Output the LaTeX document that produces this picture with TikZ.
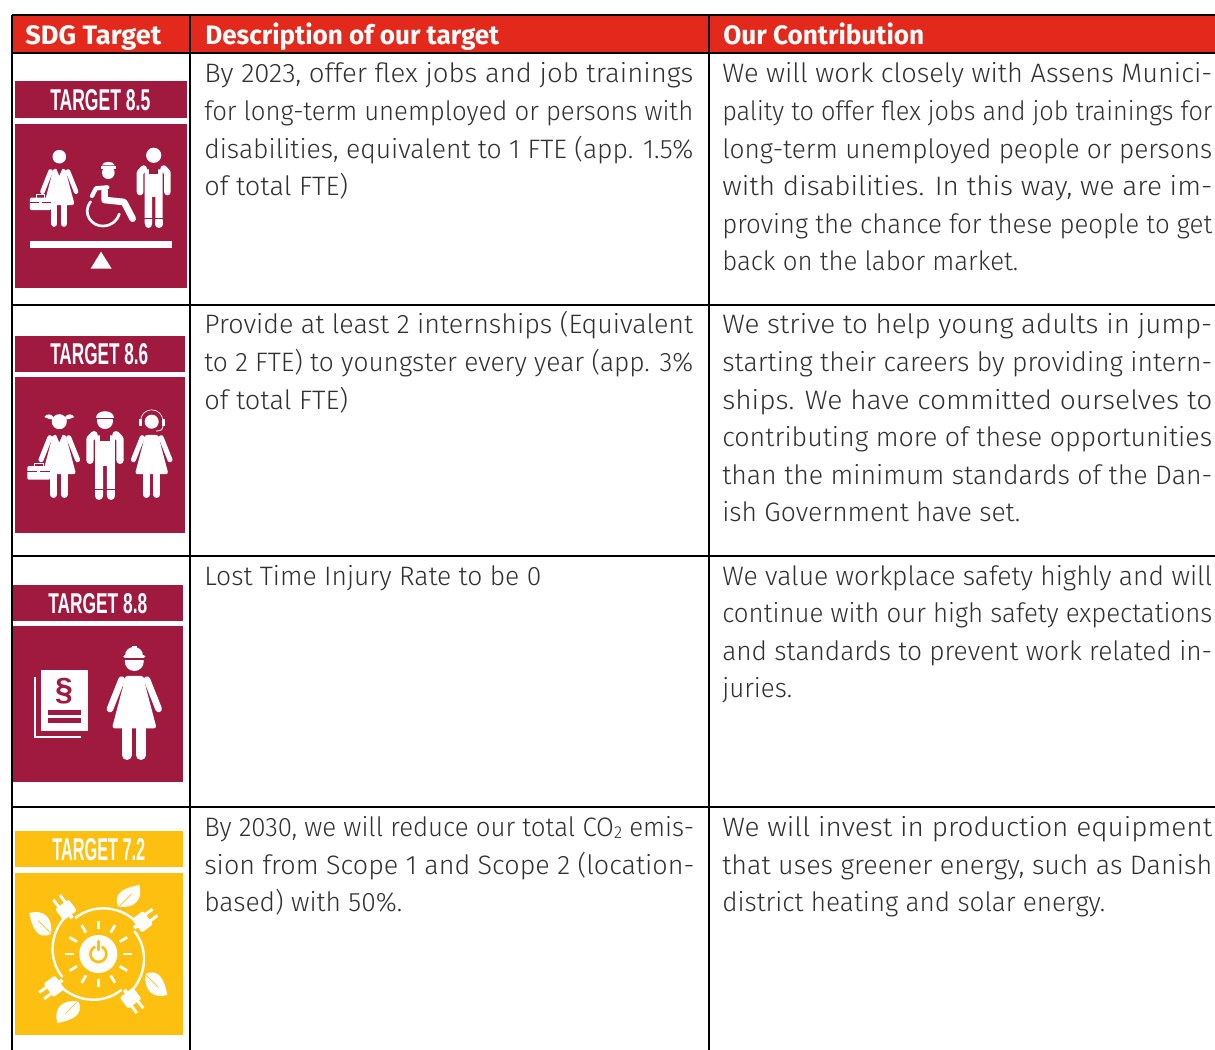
\documentclass[tikz,border=0pt]{standalone}
\usepackage{graphicx}
\usepackage{fontspec}
\setmainfont{Fira Sans Light}
\newfontfamily\hdrfont{Fira Sans}
\newfontfamily\headfont{Liberation Sans}
\definecolor{hdr}{HTML}{E3281C}
\definecolor{mar}{HTML}{A01A40}
\definecolor{yel}{HTML}{FDC010}
\definecolor{txt}{HTML}{303030}
\newlength\pxu \setlength\pxu{0.75pt}
\newcounter{tlc}
% one line of body text: x, baseline y, right end, text
\newcommand\tline[4]{\stepcounter{tlc}\node[bodyline] (tl\thetlc) at (#1,#2) {\resizebox{\dimexpr\pxu*(#3-#1)\relax}{\height}{#4}};}
\newcommand\hdline[3]{\stepcounter{tlc}\node[headline] (tl\thetlc) at (#2,44) {\resizebox{\dimexpr\pxu*(#3-#2)\relax}{\height}{#1}};}
\newcommand\tlabel[6]{\node[targetlabel] (#1) at (#2,#5) {\resizebox{\dimexpr\pxu*(#4-#2)\relax}{\dimexpr\pxu*(#5-#3)\relax}{#6}};}
\newcommand\womanbody[3]{\begin{scope}[shift={(#1,#2)},scale=#3/3]
 \fill[white,rounded corners=2] (-28,53)--(28,53)--(34,85)--(67,210)--(-67,210)--(-34,85)--cycle;
 \draw[white,line cap=round,line width=#3*5pt] (-38,64)--(-73,152) (38,64)--(73,152);
 \draw[white,line cap=round,line width=#3*7pt] (-22,205)--(-22,291) (20,205)--(20,291);
 \end{scope}}
\newcommand\vneck[3]{\begin{scope}[shift={(#1,#2)},scale=#3/3]
 \fill[mar] (-14,50)--(0,82)--(14,50)--cycle;
 \end{scope}}
\newcommand\manbody[3]{\begin{scope}[shift={(#1,#2)},scale=#3/3]
 \fill[white] (-27,42)--(27,42)--(27,130)--(27,205)--(5,205)--(5,125)--(-5,125)--(-5,205)--(-27,205)--cycle;
 \fill[mar] (-14,38) rectangle (14,56);
 \draw[white,line cap=round,line join=round,line width=#3*5pt] (-41,110)--(-41,52)--(-30,40) (41,110)--(41,52)--(30,40);
 \draw[white,line cap=round,line width=#3*5.5pt] (-16,200)--(-16,207) (16,200)--(16,207);
 \draw[mar,line width=#3*.8pt] (-32,190)--(-2,190) (2,190)--(32,190);
 \end{scope}}
\newcommand\briefcase[3]{\begin{scope}[shift={(#1,#2)},scale=#3/3]
 \fill[white,rounded corners=1] (-128,178) rectangle (-36,232);
 \draw[white,line width=#3*1.2pt] (-100,178)--(-100,166)--(-64,166)--(-64,178);
 \draw[mar,line width=#3*.7pt] (-128,198)--(-36,198);
 \fill[white] (-88,192) rectangle (-76,206);
 \end{scope}}
\newcommand\cardicon[5]{\fill[#5] (#1,#2) rectangle (#3,#4);}
\begin{document}
\begin{tikzpicture}[x=\pxu,y=-\pxu,
 bodyline/.style={anchor=base west,inner sep=0pt,text=txt,font=\fontsize{20}{24}\selectfont},
 headline/.style={anchor=base west,inner sep=0pt,text=white,font=\hdrfont\fontsize{20}{24}\selectfont\bfseries},
 targetlabel/.style={anchor=base west,inner sep=0pt,text=white,font=\headfont\bfseries},
 rule/.style={black,line width=1.5pt}]
\useasboundingbox (0,0) rectangle (1215,1050);
\fill[white] (0,0) rectangle (1215,1050);
% header
\fill[hdr] (12,15) rectangle (1215,53);
% grid
\draw[rule] (12,15)--(1215,15);
\draw[rule] (12,53)--(1215,53);
\draw[rule] (12,304.5)--(1215,304.5);
\draw[rule] (12,555.5)--(1215,555.5);
\draw[rule] (12,806.5)--(1215,806.5);
\draw[rule] (12,15)--(12,1050);
\draw[rule] (190,15)--(190,1050);
\draw[rule] (709,15)--(709,1050);
% cards
\cardicon{15}{81}{187}{118}{mar}\cardicon{15}{124}{187}{288}{mar}
\cardicon{15}{336}{184.5}{372}{mar}\cardicon{15}{376.5}{184.5}{533}{mar}
\cardicon{13}{585}{183}{621}{mar}\cardicon{13}{626}{183}{782}{mar}
\cardicon{15}{831}{183}{867}{yel}\cardicon{15}{873}{183}{1035}{yel}
\tlabel{t85}{50}{89}{150}{110}{TARGET 8.5}
\tlabel{t86}{50}{343}{148}{364}{TARGET 8.6}
\tlabel{t88}{48}{593}{147}{613}{TARGET 8.8}
\tlabel{t72}{52}{838}{145}{860}{TARGET 7.2}
% ---- 8.5
\fill[white] (59.3,156.7) circle (6.8);
\womanbody{59.3}{156.7}{.69}
\vneck{59.3}{156.7}{.69}
\briefcase{59.3}{156.7}{.69}
\manbody{153.7}{155.3}{1}
\fill[white] (153.7,155.3) circle (7.6);
\begin{scope}[scale=1/3]
 % wheelchair
 \fill[white] (325,518) circle (19);
 \fill[white] (306,496) .. controls (308,482) and (342,482) .. (344,496) -- cycle;
 \fill[white] (303,497) rectangle (347,506);
 \draw[white,line width=3.2pt,line cap=round,line join=round] (276,588)--(288,565)--(322,562);
 \draw[white,line width=5pt,line cap=round,line join=round] (314,572)--(314,600)--(372,606)--(398,656);
 \draw[white,line width=2pt,line cap=round] (272,605) .. controls (245,640) and (275,680) .. (310,678) .. controls (335,677) and (352,662) .. (358,642);
 % seesaw
 \fill[white] (90,722) rectangle (515,745);
 \fill[white] (303,755)--(272,806)--(335,806)--cycle;
\end{scope}
% ---- 8.6
\fill[white] (59.3,421.7) circle (7.5);
\begin{scope}[shift={(59.3,421.7)},scale=1/3]
 \fill[white] (-16,-12) .. controls (-24,-26) and (-38,-24) .. (-45,-14) .. controls (-36,-10) and (-26,-6) .. (-18,-6) -- cycle;
 \fill[white] (16,-12) .. controls (24,-26) and (38,-24) .. (45,-14) .. controls (36,-10) and (26,-6) .. (18,-6) -- cycle;
\end{scope}
\womanbody{59.3}{421.7}{.75}
\vneck{59.3}{421.7}{.75}
\briefcase{59.3}{421.7}{.75}
\manbody{105}{420}{1.1}
\fill[white] (105,421) circle (8);
\fill[white] (96,418) .. controls (96,409) and (114,409) .. (114,418) -- cycle;
\draw[mar,line width=.4pt] (96,418.5)--(114,418.5);
\fill[white] (151.7,421.7) circle (7);
\draw[white,line width=.5pt] (140.5,421) arc[start angle=180,end angle=360,radius=11.2];
\fill[white] (139,419) rectangle (141.5,426);
\fill[white] (162,419) rectangle (164.5,426);
\draw[white,line width=.6pt] (163,426) .. controls (163,430) and (160,431) .. (156,431);
\womanbody{151.7}{421.7}{.75}
% ---- 8.8
\begin{scope}[shift={(0,570)},scale=1/3]
 \fill[white] (123,300) rectangle (265,482);
 \draw[white,line width=1.6pt] (104,322)--(104,501)--(243,501);
 \node[text=mar,font=\headfont\bfseries\fontsize{24}{26}\selectfont,inner sep=0pt,anchor=center] (para) at (192,364) {\S};
 \fill[mar] (143,420) rectangle (243,435);
 \fill[mar] (143,445) rectangle (243,460);
\end{scope}
\womanbody{134.3}{658.3}{1}
\fill[white] (134.3,661.5) circle (9.5);
\begin{scope}[shift={(134.3,658.3)},scale=1/3]
 \fill[white] (-27,-8) .. controls (-27,-44) and (27,-44) .. (27,-8) -- cycle;
 \fill[white] (-8,-36) rectangle (8,-24);
 \draw[white,line width=2.6pt,line cap=round] (-28,-5)--(28,-5);
 \draw[mar,line width=.8pt] (-32,2)--(32,2);
\end{scope}
% ---- 7.2
\begin{scope}[shift={(98.3,954)},scale=1/3]
 \fill[white] (0,0) circle (57);
 \draw[yel,line width=2pt] (10,-22) arc[start angle=-66,end angle=246,radius=24];
 \draw[yel,line width=2pt,line cap=round] (0,-38)--(0,-12);
 \foreach \a in {0,30,...,330}
  \draw[white,line width=2pt] (\a:74)--(\a:100);
 \foreach \q in {0,90,180,270}{
 \begin{scope}[rotate=\q]
  \draw[white,line width=1.8pt,line cap=round] plot[smooth,domain=-38:-122,samples=18] ({(128+22*(\x+122)/84)*cos(\x)},{(128+22*(\x+122)/84)*sin(\x)});
  \begin{scope}[shift={(130,-95)},rotate=37]
   \fill[white,rounded corners=1.5] (-18,-25) rectangle (24,25);
   \draw[white,line width=2.2pt] (22,-12)--(50,-12) (22,12)--(50,12);
   \draw[white,line width=2.8pt] (-28,0)--(-10,0);
  \end{scope}
  \fill[white] (60,-142) .. controls (40,-185) and (85,-200) .. (123,-207) .. controls (135,-165) and (110,-135) .. cycle;
  \draw[yel,line width=.5pt] (62,-142)--(100,-180);
 \end{scope}}
\end{scope}
% header text
\hdline{SDG Target}{25}{161}
\hdline{Description of our target}{205}{499}
\hdline{Our Contribution}{723}{924}
% row 1
\tline{204}{82}{693}{By 2023, offer flex jobs and job trainings}
\tline{204}{120}{693}{for long-term unemployed or persons with}
\tline{204}{158}{693}{disabilities, equivalent to 1 FTE (app. 1.5\%}
\tline{204}{195}{348}{of total FTE)}
\tline{722}{82}{1212}{We will work closely with Assens Munici-}
\tline{722}{120}{1212}{pality to offer flex jobs and job trainings for}
\tline{722}{158}{1212}{long-term unemployed people or persons}
\tline{722}{195}{1212}{with disabilities. In this way, we are im-}
\tline{722}{233}{1212}{proving the chance for these people to get}
\tline{722}{270}{1018}{back on the labor market.}
% row 2
\tline{204}{333}{693}{Provide at least 2 internships (Equivalent}
\tline{204}{371}{693}{to 2 FTE) to youngster every year (app. 3\%}
\tline{204}{409}{348}{of total FTE)}
\tline{722}{333}{1212}{We strive to help young adults in jump-}
\tline{722}{371}{1212}{starting their careers by providing intern-}
\tline{722}{409}{1212}{ships. We have committed ourselves to}
\tline{722}{446}{1212}{contributing more of these opportunities}
\tline{722}{484}{1212}{than the minimum standards of the Dan-}
\tline{722}{521}{1020}{ish Government have set.}
% row 3
\tline{204}{585}{541}{Lost Time Injury Rate to be 0}
\tline{722}{585}{1212}{We value workplace safety highly and will}
\tline{722}{622}{1212}{continue with our high safety expectations}
\tline{722}{660}{1212}{and standards to prevent work related in-}
\tline{722}{697}{792}{juries.}
% row 4
\tline{204}{836}{694}{By 2030, we will reduce our total CO\raisebox{-1.5pt}{\fontsize{13}{14}\selectfont 2} emis-}
\tline{204}{874}{694}{sion from Scope 1 and Scope 2 (location-}
\tline{204}{911}{402}{based) with 50\%.}
\tline{722}{836}{1212}{We will invest in production equipment}
\tline{722}{874}{1212}{that uses greener energy, such as Danish}
\tline{722}{911}{1105}{district heating and solar energy.}
\end{tikzpicture}
\end{document}
